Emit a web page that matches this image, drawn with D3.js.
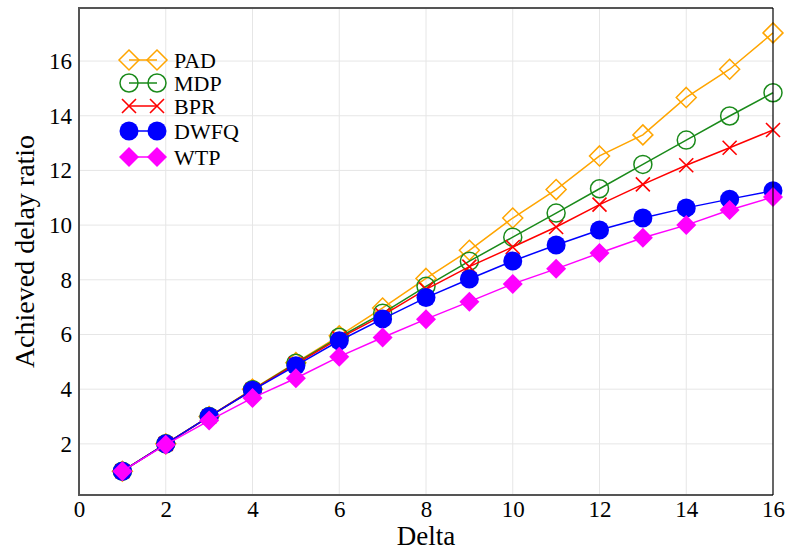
<!DOCTYPE html>
<html>
<head>
<meta charset="utf-8">
<script src="https://cdn.jsdelivr.net/npm/d3@7"></script>
<style>
  body { margin: 0; background: #fff; }
  text { font-family: "Liberation Serif", "DejaVu Serif", serif; }
</style>
</head>
<body>
<div id="chart"></div>
<script>
const deltas = [1, 2, 3, 4, 5, 6, 7, 8, 9, 10, 11, 12, 13, 14, 15, 16]
const padValues  = [1.0, 2.0, 3.0, 4.0, 4.97, 5.95, 6.97, 8.05, 9.08, 10.26, 11.3, 12.53, 13.3, 14.67, 15.7, 17.03]
const mdpValues  = [1.0, 2.0, 3.0, 3.98, 4.95, 5.9, 6.78, 7.76, 8.68, 9.56, 10.44, 11.33, 12.22, 13.11, 13.99, 14.84]
const bprValues  = [1.0, 2.0, 3.0, 3.97, 4.92, 5.86, 6.7, 7.65, 8.48, 9.2, 9.93, 10.75, 11.49, 12.19, 12.83, 13.48]
const dwfqValues = [1.0, 2.0, 3.0, 3.96, 4.86, 5.77, 6.57, 7.35, 8.03, 8.69, 9.27, 9.82, 10.26, 10.63, 10.95, 11.26]
const wtpValues  = [1.0, 1.97, 2.85, 3.68, 4.4, 5.19, 5.89, 6.56, 7.2, 7.85, 8.4, 8.98, 9.54, 10.0, 10.55, 11.03]
const seriesNames = ['PAD', 'MDP', 'BPR', 'DWFQ', 'WTP']
const xTicks = [0, 2, 4, 6, 8, 10, 12, 14, 16]
const yTicks = [2, 4, 6, 8, 10, 12, 14, 16]

const width = 786
const height = 551
const margin = {'top': 8, 'left': 79, 'right': 13, 'bottom': 56}
const serif = '"Liberation Serif", "DejaVu Serif", serif'

const series = [
  {name: seriesNames[0], values: padValues, color: '#ffa500', marker: 'diamondOpen'},
  {name: seriesNames[1], values: mdpValues, color: '#1a8a1a', marker: 'circleOpen'},
  {name: seriesNames[2], values: bprValues, color: '#ff0000', marker: 'cross'},
  {name: seriesNames[3], values: dwfqValues, color: '#0000ff', marker: 'circle'},
  {name: seriesNames[4], values: wtpValues, color: '#ff00ff', marker: 'diamond'}
]

let svg = d3.select('#chart').append('svg')
  .attr('width', width)
  .attr('height', height)

let xScale = d3.scaleLinear().domain([0, 16]).range([margin.left, width - margin.right])
let yScale = d3.scaleLinear().domain([0.13, 17.94]).range([height - margin.bottom, margin.top])

// grid
svg.append('g')
  .selectAll('line')
  .data(xTicks.slice(1, -1))
  .enter().append('line')
  .attr('x1', d => xScale(d)).attr('x2', d => xScale(d))
  .attr('y1', margin.top).attr('y2', height - margin.bottom)
  .attr('stroke', '#e6e6e6').attr('stroke-width', 1)
svg.append('g')
  .selectAll('line')
  .data(yTicks)
  .enter().append('line')
  .attr('x1', margin.left).attr('x2', width - margin.right)
  .attr('y1', d => yScale(d)).attr('y2', d => yScale(d))
  .attr('stroke', '#e6e6e6').attr('stroke-width', 1)

// axes
let xAxis = svg.append('g')
  .attr('transform', `translate(0, ${height - margin.bottom})`)
  .call(d3.axisBottom(xScale).tickValues(xTicks).tickSize(0).tickPadding(6))
  .attr('font-family', serif)
xAxis.select('.domain').remove()
xAxis.selectAll('text').style('font-size', '23px').attr('fill', '#000')

let yAxis = svg.append('g')
  .attr('transform', `translate(${margin.left}, 0)`)
  .call(d3.axisLeft(yScale).tickValues(yTicks).tickSize(0).tickPadding(7))
  .attr('font-family', serif)
yAxis.select('.domain').remove()
yAxis.selectAll('text').style('font-size', '23px').attr('fill', '#000')

svg.append('text')
  .attr('x', xScale(8))
  .attr('y', 545)
  .attr('text-anchor', 'middle')
  .style('font-size', '27px')
  .text('Delta')

svg.append('text')
  .attr('transform', `translate(34, ${(margin.top + height - margin.bottom) / 2}) rotate(-90)`)
  .attr('text-anchor', 'middle')
  .style('font-size', '28px')
  .text('Achieved delay ratio')

let drawMarker = function (g, type, color) {
  if (type === 'circle') {
    g.append('circle').attr('r', 9.5).attr('fill', color)
  } else if (type === 'circleOpen') {
    g.append('circle').attr('r', 9).attr('fill', 'none').attr('stroke', color).attr('stroke-width', 1.5)
  } else if (type === 'diamond') {
    g.append('path').attr('d', 'M0,-10L10,0L0,10L-10,0Z').attr('fill', color)
  } else if (type === 'diamondOpen') {
    g.append('path').attr('d', 'M0,-10L10,0L0,10L-10,0Z').attr('fill', 'none')
      .attr('stroke', color).attr('stroke-width', 1.5)
  } else if (type === 'cross') {
    g.append('path').attr('d', 'M-7,-7L7,7M-7,7L7,-7').attr('fill', 'none')
      .attr('stroke', color).attr('stroke-width', 1.6)
  }
}

let line = d3.line().x((d, i) => xScale(deltas[i])).y(d => yScale(d))

let plot = svg.append('g')
series.forEach(s => {
  plot.append('path')
    .datum(s.values)
    .attr('d', line)
    .attr('fill', 'none')
    .attr('stroke', s.color)
    .attr('stroke-width', 1.5)
  s.values.forEach((v, i) => {
    let g = plot.append('g').attr('transform', `translate(${xScale(deltas[i])}, ${yScale(v)})`)
    drawMarker(g, s.marker, s.color)
  })
})

// frame
svg.append('path')
  .attr('d', `M${width - margin.right},${margin.top}L${margin.left},${margin.top}L${margin.left},${height - margin.bottom}L${width - margin.right},${height - margin.bottom}`)
  .attr('fill', 'none').attr('stroke', '#555').attr('stroke-width', 2)
svg.append('line')
  .attr('x1', width - margin.right).attr('x2', width - margin.right)
  .attr('y1', margin.top).attr('y2', height - margin.bottom)
  .attr('stroke', '#000').attr('stroke-width', 1.2)

// legend
let legendY = [60, 83, 106, 131, 157]
let legend = svg.append('g')
series.forEach((s, i) => {
  let row = legend.append('g').attr('transform', `translate(0, ${legendY[i]})`)
  row.append('line').attr('x1', 129).attr('x2', 157).attr('y1', 0).attr('y2', 0)
    .attr('stroke', s.color).attr('stroke-width', 1.5)
  drawMarker(row.append('g').attr('transform', 'translate(129, 0)'), s.marker, s.color)
  drawMarker(row.append('g').attr('transform', 'translate(157, 0)'), s.marker, s.color)
  row.append('text').attr('x', 174).attr('y', 8).style('font-size', '22px').text(s.name)
})
</script>
</body>
</html>
